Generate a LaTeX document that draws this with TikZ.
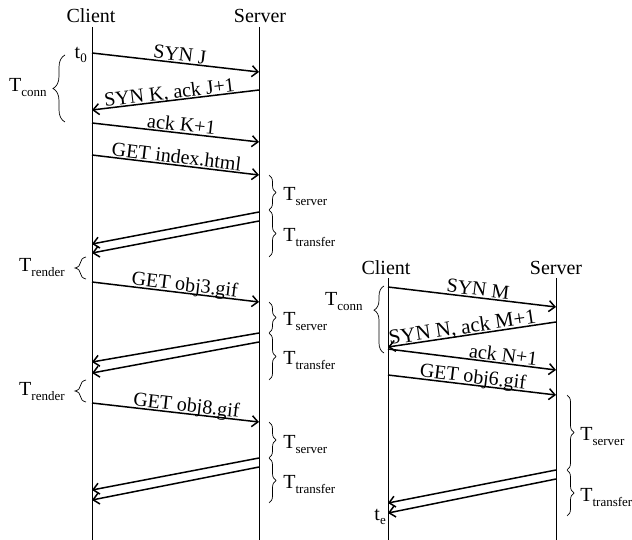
\documentclass[tikz,border=0pt]{standalone}
\usepackage{fontspec}
\setmainfont{Liberation Serif}
\usetikzlibrary{arrows.meta,decorations.pathreplacing}

% time symbols with a lowered, smaller index
\newcommand\Tsub[1]{T\raisebox{-5pt}{\fontsize{13}{13}\selectfont #1}}
\newcommand\tsub[1]{t\raisebox{-4pt}{\fontsize{13}{13}\selectfont #1}}

\begin{document}
\begin{tikzpicture}[x=1pt,y=-1pt,
  head/.style={font=\fontsize{20}{20}\selectfont, inner sep=0pt},
  lifeline/.style={line width=1pt},
  msg/.style={line width=1.5pt, -{Straight Barb[length=6pt,width=11pt]}},
  lbl/.style={font=\fontsize{20}{20}\selectfont, sloped, above, inner sep=1.2pt, text depth=0pt},
  timebrace/.style={decorate, decoration={brace, amplitude=7pt}, line width=0.7pt},
  tlabel/.style={font=\fontsize{20}{20}\selectfont, inner sep=0pt},
  rlabel/.style={tlabel, anchor=base west, xshift=14pt, yshift=-8pt},
  llabel/.style={tlabel, anchor=base east},
]
\useasboundingbox (0,0) rectangle (632,540);
\clip (0,0) rectangle (632,540);

% ---------------- first connection ----------------
\node[head] (c1) at (91,16) {Client};
\node[head] (s1) at (260,16) {Server};
\coordinate (c1top) at (92,27);  \coordinate (c1bot) at (92,540);
\coordinate (s1top) at (259,27); \coordinate (s1bot) at (259,540);
\draw[lifeline] (c1top) -- (c1bot);
\draw[lifeline] (s1top) -- (s1bot);

% handshake and first request
\coordinate (m1a) at (92,53);   \coordinate (m1b) at (259,72);
\coordinate (m2a) at (259,90);  \coordinate (m2b) at (92,110);
\coordinate (m3a) at (92,123);  \coordinate (m3b) at (259,142);
\coordinate (m4a) at (92,155);  \coordinate (m4b) at (259,175);
\draw[msg] (m1a) -- node[lbl, pos=0.52] {SYN J} (m1b);
\draw[msg] (m2a) -- node[lbl, pos=0.53] {SYN K, ack J+1} (m2b);
\draw[msg] (m3a) -- node[lbl, pos=0.53] {ack K+1} (m3b);
\draw[msg] (m4a) -- node[lbl] {GET index.html} (m4b);

% first response
\coordinate (r1a) at (259,212); \coordinate (r1b) at (92,244);
\coordinate (r1c) at (259,221); \coordinate (r1d) at (92,253);
\draw[msg] (r1a) -- (r1b);
\draw[msg] (r1c) -- (r1d);

% second request and response
\coordinate (m5a) at (92,282);  \coordinate (m5b) at (259,302);
\draw[msg] (m5a) -- node[lbl, pos=0.55] {GET obj3.gif} (m5b);
\coordinate (r2a) at (259,333); \coordinate (r2b) at (92,362);
\coordinate (r2c) at (259,342); \coordinate (r2d) at (92,373);
\draw[msg] (r2a) -- (r2b);
\draw[msg] (r2c) -- (r2d);

% third request and response
\coordinate (m6a) at (92,403);  \coordinate (m6b) at (259,422);
\draw[msg] (m6a) -- node[lbl, pos=0.56] {GET obj8.gif} (m6b);
\coordinate (r3a) at (259,458); \coordinate (r3b) at (92,490);
\coordinate (r3c) at (259,467); \coordinate (r3d) at (92,500);
\draw[msg] (r3a) -- (r3b);
\draw[msg] (r3c) -- (r3d);

\node[tlabel, anchor=base east] (t0) at (87,59) {\tsub{0}};

% server side intervals
\coordinate (b1) at (269,175); \coordinate (b2) at (269,210); \coordinate (b3) at (269,257);
\coordinate (b4) at (269,302); \coordinate (b5) at (269,333); \coordinate (b6) at (269,380);
\coordinate (b7) at (269,422); \coordinate (b8) at (269,458); \coordinate (b9) at (269,503);
\draw[timebrace] (b1) -- node[rlabel] {\Tsub{server}} (b2);
\draw[timebrace] (b2) -- node[rlabel] {\Tsub{transfer}} (b3);
\draw[timebrace] (b4) -- node[rlabel] {\Tsub{server}} (b5);
\draw[timebrace] (b5) -- node[rlabel] {\Tsub{transfer}} (b6);
\draw[timebrace] (b7) -- node[rlabel] {\Tsub{server}} (b8);
\draw[timebrace] (b8) -- node[rlabel] {\Tsub{transfer}} (b9);

% client side intervals
\coordinate (k1) at (65,122); \coordinate (k2) at (65,55);
\draw[timebrace, decoration={amplitude=12pt}] (k1) --
  node[llabel, xshift=-18pt, yshift=-3.5pt] {\Tsub{conn}} (k2);
\coordinate (k3) at (86,279); \coordinate (k4) at (86,257);
\draw[timebrace, decoration={amplitude=11pt}] (k3) --
  node[llabel, xshift=-21pt, yshift=-4pt] {\Tsub{render}} (k4);
\coordinate (k5) at (86,402); \coordinate (k6) at (86,380);
\draw[timebrace, decoration={amplitude=11pt}] (k5) --
  node[llabel, xshift=-21pt, yshift=-4pt] {\Tsub{render}} (k6);

% ---------------- second connection ----------------
\node[head] (c2) at (386,268) {Client};
\node[head] (s2) at (556,268) {Server};
\coordinate (c2top) at (388,278); \coordinate (c2bot) at (388,540);
\coordinate (s2top) at (556,278); \coordinate (s2bot) at (556,540);
\draw[lifeline] (c2top) -- (c2bot);
\draw[lifeline] (s2top) -- (s2bot);

\coordinate (m7a) at (388,287);  \coordinate (m7b) at (556,307);
\coordinate (m8a) at (556,322);  \coordinate (m8b) at (388,347);
\coordinate (m9a) at (388,349);  \coordinate (m9b) at (556,370);
\coordinate (m10a) at (388,375); \coordinate (m10b) at (556,395);
\draw[msg] (m7a) -- node[lbl, pos=0.53] {SYN M} (m7b);
\draw[msg] (m8a) -- node[lbl, font=\fontsize{21}{21}\selectfont, pos=0.55] {SYN N, ack M+1} (m8b);
\draw[msg] (m9a) -- node[lbl, pos=0.68] {ack N+1} (m9b);
\draw[msg] (m10a) -- node[lbl] {GET obj6.gif} (m10b);

\coordinate (r4a) at (556,470); \coordinate (r4b) at (388,503);
\coordinate (r4c) at (556,479); \coordinate (r4d) at (388,513);
\draw[msg] (r4a) -- (r4b);
\draw[msg] (r4c) -- (r4d);

\node[tlabel, anchor=base east] (te) at (386,520) {\tsub{e}};

\coordinate (q1) at (567,395); \coordinate (q2) at (567,470); \coordinate (q3) at (567,516);
\draw[timebrace] (q1) -- node[rlabel, xshift=-1pt] {\Tsub{server}} (q2);
\draw[timebrace] (q2) -- node[rlabel, xshift=-1pt] {\Tsub{transfer}} (q3);

\coordinate (q4) at (384,286); \coordinate (q5) at (384,353);
\draw[timebrace, decoration={amplitude=10pt, aspect=0.36, mirror}] (q4) --
  node[llabel, pos=0.36, xshift=-21pt, yshift=5pt] {\Tsub{conn}} (q5);
\end{tikzpicture}
\end{document}
